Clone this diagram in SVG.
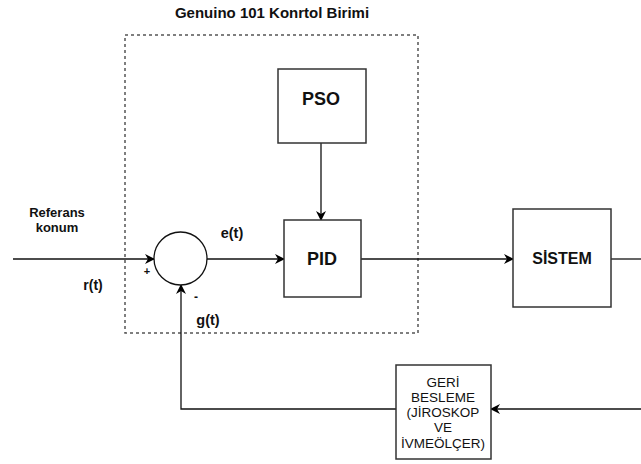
<svg xmlns="http://www.w3.org/2000/svg" width="641" height="464" viewBox="0 0 641 464">
<defs>
<marker id="arr" markerWidth="10" markerHeight="10" refX="9" refY="5" orient="auto" markerUnits="userSpaceOnUse">
<path d="M0,0 L10,5 L0,10 L3,5 Z" fill="#000"/>
</marker>
<style>
.box{fill:#fff;stroke:#333;stroke-width:1.5}
.con{fill:none;stroke:#111;stroke-width:1.3}
.t{font-family:"Liberation Sans",Arial,sans-serif;fill:#111;text-anchor:middle}
.b{font-weight:bold}
</style>
</defs>
<rect width="641" height="464" fill="#fff"/>
<g id="control-unit">
<rect x="125" y="35" width="293" height="298" fill="none" stroke="#555" stroke-width="1.5" stroke-dasharray="3 3"/>
<text class="t b" x="272" y="18" font-size="15">Genuino 101 Konrtol Birimi</text>
</g>
<g id="connectors">
<path class="con" d="M13 259 L154 259" marker-end="url(#arr)"/>
<path class="con" d="M207 259 L284 259" marker-end="url(#arr)"/>
<path class="con" d="M321 143 L321 220" marker-end="url(#arr)"/>
<path class="con" d="M361 259 L513 259" marker-end="url(#arr)"/>
<path class="con" d="M611 259 L641 259"/>
<path class="con" d="M641 409 L491 409" marker-end="url(#arr)"/>
<path class="con" d="M396 409 L181 409 L181 285" marker-end="url(#arr)"/>
</g>
<g id="labels">
<text class="t b" x="57" y="217" font-size="13">Referans</text>
<text class="t b" x="57" y="232" font-size="13">konum</text>
<text class="t b" x="93" y="290" font-size="14">r(t)</text>
<text class="t b" x="147" y="275" font-size="11">+</text>
<text class="t b" x="232" y="238" font-size="14.5">e(t)</text>
<text class="t b" x="196" y="301" font-size="12">-</text>
<text class="t b" x="208" y="325" font-size="14.5">g(t)</text>
</g>
<g id="sum">
<circle cx="180.5" cy="258.5" r="26.5" fill="#fff" stroke="#111" stroke-width="1.3"/>
</g>
<g id="pso">
<rect class="box" x="278" y="69" width="88" height="74"/>
<text class="t b" x="321" y="105" font-size="18">PSO</text>
</g>
<g id="pid">
<rect class="box" x="284" y="220" width="77" height="77"/>
<text class="t b" x="322" y="265" font-size="18">PID</text>
</g>
<g id="sistem">
<rect class="box" x="513" y="209" width="98" height="98"/>
<text class="t b" x="562" y="264" font-size="16">SİSTEM</text>
</g>
<g id="feedback">
<rect class="box" x="396" y="365" width="95" height="94"/>
<text class="t" x="443" y="387" font-size="13.5">GERİ</text>
<text class="t" x="443" y="402" font-size="13.5">BESLEME</text>
<text class="t" x="443" y="417" font-size="13.5">(JİROSKOP</text>
<text class="t" x="443" y="432" font-size="13.5">VE</text>
<text class="t" x="443" y="448" font-size="13.5">İVMEÖLÇER)</text>
</g>
</svg>
